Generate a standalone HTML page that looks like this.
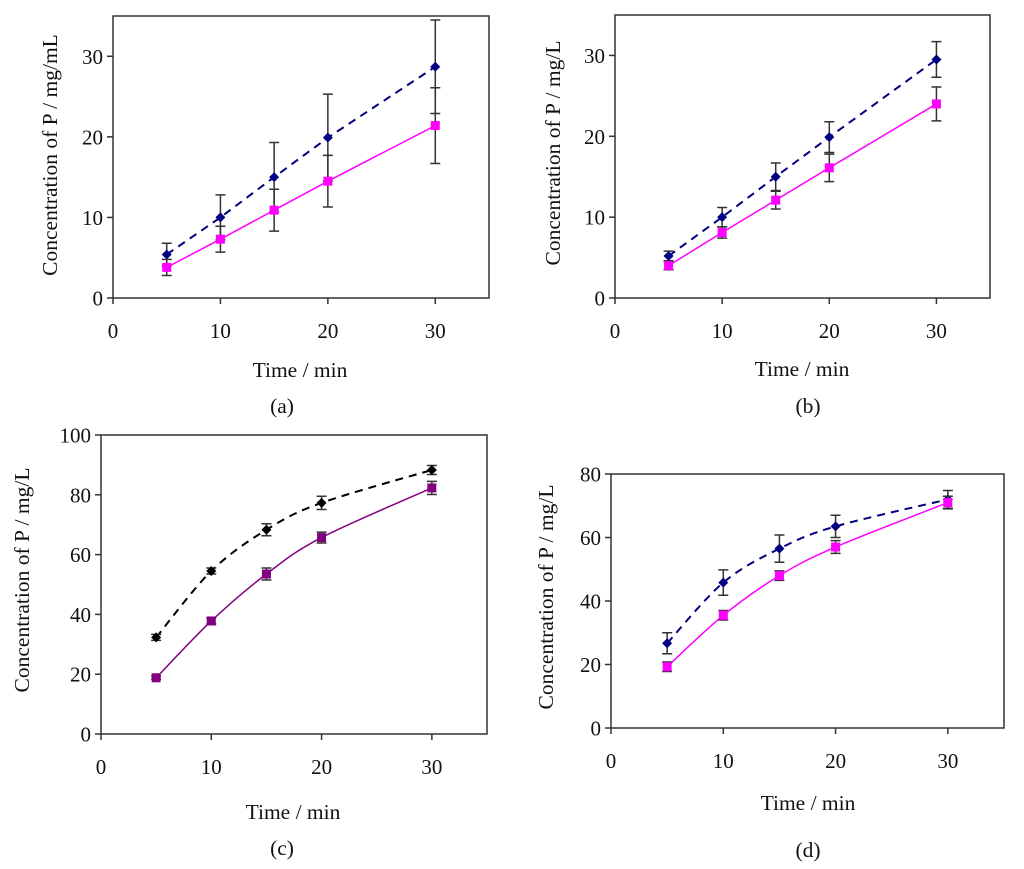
<!DOCTYPE html>
<html><head><meta charset="utf-8"><style>
body{margin:0;background:#fff;}
svg{display:block;font-family:"Liberation Serif",serif;}
</style></head><body>
<svg id="fig" width="1024" height="869" viewBox="0 0 1024 869"></svg>
<script>
const timesMin = [5,10,15,20,30];
const xTicks = [0,10,20,30];
// panel a
const aBlue = [5.4,10,15,19.9,28.7];
const aBlueErr = [1.4,2.8,4.3,5.4,5.8];
const aPink = [3.8,7.3,10.9,14.5,21.4];
const aPinkErr = [1.0,1.6,2.6,3.2,4.7];
const aTicks = [0,10,20,30];
// panel b
const bBlue = [5.2,10,15,19.9,29.5];
const bBlueErr = [0.6,1.2,1.7,1.9,2.2];
const bPink = [4,8.1,12.1,16.1,24];
const bPinkErr = [0.5,0.7,1.1,1.7,2.1];
const bTicks = [0,10,20,30];
// panel c
const cBlack = [32.3,54.5,68.3,77.3,88.3];
const cBlackErr = [1,1,2,2.2,1.5];
const cPurple = [18.8,37.8,53.5,65.7,82.3];
const cPurpleErr = [0.5,1,2,1.8,2.2];
const cTicks = [0,20,40,60,80,100];
// panel d
const dBlue = [26.7,45.8,56.5,63.5,72];
const dBlueErr = [3.3,4,4.3,3.5,2.8];
const dPink = [19.3,35.5,48,57,71];
const dPinkErr = [1.5,1.5,1.5,2,2];
const dTicks = [0,20,40,60,80];

const NS="http://www.w3.org/2000/svg";
const svg=document.getElementById('fig');
function mk(tag,attrs,parent){const e=document.createElementNS(NS,tag);for(const k in attrs)e.setAttribute(k,attrs[k]);(parent||svg).appendChild(e);return e;}

function smoothPath(pts,smooth){
  let d="M"+pts[0][0]+","+pts[0][1];
  for(let i=0;i<pts.length-1;i++){
    const p0=pts[Math.max(0,i-1)],p1=pts[i],p2=pts[i+1],p3=pts[Math.min(pts.length-1,i+2)];
    if(!smooth){d+=" L"+p2[0]+","+p2[1];continue;}
    const t=1/6;
    const c1=[p1[0]+(p2[0]-p0[0])*t,p1[1]+(p2[1]-p0[1])*t];
    const c2=[p2[0]-(p3[0]-p1[0])*t,p2[1]-(p3[1]-p1[1])*t];
    d+=" C"+c1[0]+","+c1[1]+" "+c2[0]+","+c2[1]+" "+p2[0]+","+p2[1];
  }
  return d;
}

function panel(cfg){
  const g=mk('g',{});
  
  
  const X=v=>cfg.l+(v-0)/35*(cfg.r-cfg.l);
  const Y=v=>cfg.b-v/cfg.ymax*(cfg.b-cfg.t);
  const box=mk('rect',{x:cfg.l,y:cfg.t,width:cfg.r-cfg.l,height:cfg.b-cfg.t,fill:'none',stroke:'#333','stroke-width':1.5},g);
  
  
  cfg.yt.forEach(v=>{
    mk('line',{x1:cfg.l-6,x2:cfg.l,y1:Y(v),y2:Y(v),stroke:'#333','stroke-width':1.5},g);
    const t=mk('text',{x:cfg.l-10,y:Y(v)+7.5,'text-anchor':'end','font-size':21,fill:'#111'},g);
    t.textContent=v;
    
    
  });
  xTicks.forEach(v=>{
    mk('line',{x1:X(v),x2:X(v),y1:cfg.b,y2:cfg.b+6,stroke:'#333','stroke-width':1.5},g);
    const t=mk('text',{x:X(v),y:cfg.b+40,'text-anchor':'middle','font-size':21,fill:'#111'},g);
    t.textContent=v;
    
    
  });
  const xt=mk('text',{x:cfg.xtx,y:cfg.xty,'text-anchor':'middle','font-size':21.5,fill:'#111'},g);
  xt.textContent='Time / min';
  
  
  const yt=mk('text',{x:0,y:0,'text-anchor':'middle','font-size':21.5,fill:'#111',transform:`translate(${cfg.ytx},${cfg.yty}) rotate(-90)`},g);
  yt.textContent=cfg.ylabel;
  
  
  const pl=mk('text',{x:cfg.plx,y:cfg.ply,'text-anchor':'middle','font-size':21.5,fill:'#111'},g);
  pl.textContent='('+cfg.id+')';
  
  
  cfg.series.forEach(s=>{
    const pts=timesMin.map((t,i)=>[X(t),Y(s.vals[i])]);
    const p=mk('path',{d:smoothPath(pts,cfg.smooth),fill:'none',stroke:s.color,'stroke-width':s.dash?2:1.5,'stroke-dasharray':s.dash?'8,6':'none'},g);
    
    
    timesMin.forEach((t,i)=>{
      const x=X(t),y1=Y(s.vals[i]-s.err[i]),y2=Y(s.vals[i]+s.err[i]);
      const eb=mk('path',{d:`M${x},${y1}V${y2}M${x-5},${y1}H${x+5}M${x-5},${y2}H${x+5}`,stroke:'#333','stroke-width':1.5,fill:'none'},g);
      
      
    });
    timesMin.forEach((t,i)=>{
      const x=X(t),y=Y(s.vals[i]);
      let m;
      if(s.marker==='d') m=mk('path',{d:`M${x},${y-5}L${x+5},${y}L${x},${y+5}L${x-5},${y}Z`,fill:s.color},g);
      else m=mk('rect',{x:x-4.5,y:y-4.5,width:9,height:9,fill:s.color},g);
      
      
    });
  });
}

panel({id:'a',l:113,r:489,t:16,b:298,ymax:35,yt:aTicks,ylabel:'Concentration of P / mg/mL',
  xtx:300,xty:377,ytx:57,yty:155,plx:282,ply:413,smooth:false,
  series:[{name:'blue',vals:aBlue,err:aBlueErr,color:'#000080',dash:true,marker:'d'},
          {name:'pink',vals:aPink,err:aPinkErr,color:'#ff00ff',dash:false,marker:'s'}]});
panel({id:'b',l:615,r:990,t:15,b:298,ymax:35,yt:bTicks,ylabel:'Concentration of P / mg/L',
  xtx:802,xty:376,ytx:560,yty:153,plx:808,ply:413,smooth:false,
  series:[{name:'blue',vals:bBlue,err:bBlueErr,color:'#000080',dash:true,marker:'d'},
          {name:'pink',vals:bPink,err:bPinkErr,color:'#ff00ff',dash:false,marker:'s'}]});
panel({id:'c',l:101,r:487,t:435,b:734,ymax:100,yt:cTicks,ylabel:'Concentration of P / mg/L',
  xtx:293,xty:819,ytx:29,yty:580,plx:282,ply:855,smooth:true,
  series:[{name:'black',vals:cBlack,err:cBlackErr,color:'#000',dash:true,marker:'d'},
          {name:'purple',vals:cPurple,err:cPurpleErr,color:'#800080',dash:false,marker:'s'}]});
panel({id:'d',l:611,r:1004,t:474,b:728,ymax:80,yt:dTicks,ylabel:'Concentration of P / mg/L',
  xtx:808,xty:810,ytx:553,yty:597,plx:808,ply:857,smooth:true,
  series:[{name:'blue',vals:dBlue,err:dBlueErr,color:'#000080',dash:true,marker:'d'},
          {name:'pink',vals:dPink,err:dPinkErr,color:'#ff00ff',dash:false,marker:'s'}]});
</script>
</body></html>
